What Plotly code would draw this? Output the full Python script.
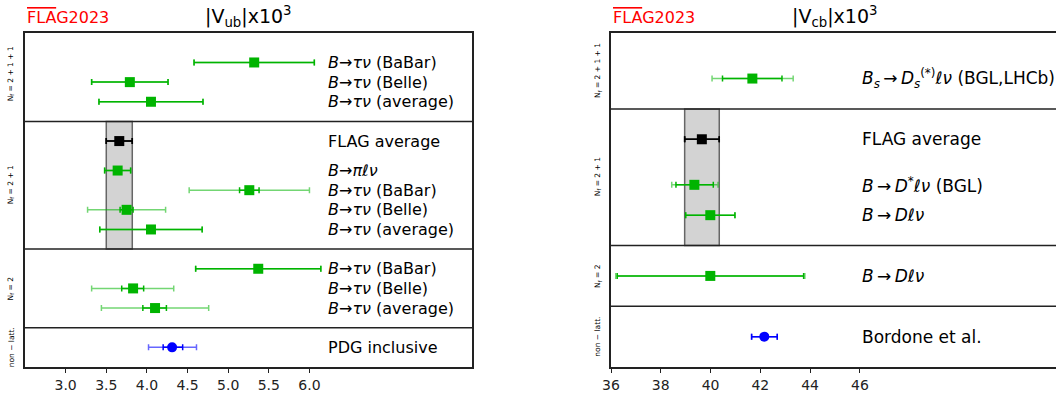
import plotly.graph_objects as go

# ---- |Vub| x 10^3 (left panel) ----
vub_labels = ["<i>B</i>→<i>τν</i> (BaBar)", "<i>B</i>→<i>τν</i> (Belle)", "<i>B</i>→<i>τν</i> (average)",
              "FLAG average", "<i>B</i>→<i>πℓν</i>", "<i>B</i>→<i>τν</i> (BaBar)",
              "<i>B</i>→<i>τν</i> (Belle)", "<i>B</i>→<i>τν</i> (average)",
              "<i>B</i>→<i>τν</i> (BaBar)", "<i>B</i>→<i>τν</i> (Belle)", "<i>B</i>→<i>τν</i> (average)",
              "PDG inclusive"]
vub_y = [15.5, 14.5, 13.5, 11.5, 10, 9, 8, 7, 5, 4, 3, 1]
vub_val = [5.32, 3.79, 4.05, 3.66, 3.64, 5.26, 3.75, 4.05, 5.37, 3.83, 4.10, 4.31]
vub_tot_lo = [4.58, 3.32, 3.41, 3.50, 3.48, 4.52, 3.27, 3.42, 4.60, 3.32, 3.44, 4.02]
vub_tot_hi = [6.06, 4.26, 4.69, 3.82, 3.80, 6.00, 4.23, 4.68, 6.14, 4.33, 4.76, 4.61]
vub_stat_lo = [4.58, 3.32, 3.41, 3.50, 3.48, 5.14, 3.67, 3.42, 4.60, 3.69, 3.95, 4.20]
vub_stat_hi = [6.06, 4.26, 4.69, 3.82, 3.80, 5.38, 3.83, 4.68, 6.14, 3.96, 4.24, 4.44]
vub_kind = ["lat", "lat", "lat", "avg", "lat", "lat", "lat", "lat", "lat", "lat", "lat", "pheno"]
vub_seps = [2, 6, 12.5]
vub_groups = ["N<sub>f</sub> = 2 + 1 + 1", "N<sub>f</sub> = 2 + 1", "N<sub>f</sub> = 2", "non − latt."]
vub_group_y = [14.9, 9.25, 4, 1]
vub_band = [3.50, 3.82]
vub_band_y = [6, 12.5]
vub_ticks = [3.0, 3.5, 4.0, 4.5, 5.0, 5.5, 6.0]

# ---- |Vcb| x 10^3 (right panel) ----
vcb_labels = ["<i>B<sub>s</sub></i>\u2009→\u2009<i>D<sub>s</sub></i><sup>(*)</sup><i>ℓν</i> (BGL,LHCb)",
              "FLAG average", "<i>B</i>\u2009→\u2009<i>D</i><sup>*</sup><i>ℓν</i> (BGL)",
              "<i>B</i>\u2009→\u2009<i>Dℓν</i>", "<i>B</i>\u2009→\u2009<i>Dℓν</i>", "Bordone et al."]
vcb_y = [9.5, 7.5, 6, 5, 3, 1]
vcb_val = [41.68, 39.65, 39.35, 39.99, 39.99, 42.16]
vcb_tot_lo = [40.06, 38.96, 38.44, 39.00, 36.19, 41.65]
vcb_tot_hi = [43.32, 40.35, 40.30, 40.98, 43.79, 42.68]
vcb_stat_lo = [40.48, 38.96, 38.61, 39.00, 36.25, 41.65]
vcb_stat_hi = [42.87, 40.35, 40.11, 40.98, 43.74, 42.68]
vcb_kind = ["lat", "avg", "lat", "lat", "lat", "pheno"]
vcb_seps = [2, 4, 8.5]
vcb_groups = ["N<sub>f</sub> = 2 + 1 + 1", "N<sub>f</sub> = 2 + 1", "N<sub>f</sub> = 2", "non − latt."]
vcb_group_y = [9.75, 6.25, 3, 1]
vcb_band = [38.96, 40.35]
vcb_band_y = [4, 8.5]
vcb_ticks = [36, 38, 40, 42, 44, 46]

styles = {
    "lat": dict(symbol="square", color="#00b400", bar_out="rgba(0,180,0,0.55)", bar_in="#00b400", size=10),
    "avg": dict(symbol="square", color="black", bar_out="black", bar_in="black", size=10),
    "pheno": dict(symbol="circle", color="#0000ff", bar_out="rgba(0,0,255,0.6)", bar_in="#0000ff", size=10),
}
FONT = "DejaVu Sans"
LINE = "#222222"

fig = go.Figure()


def add_panel(xa, ya, labels, ys, vals, tlo, thi, slo, shi, kinds, band, band_y, seps,
              groups, group_y, text_x, x_range, side_x, label_size):
    xref = xa.replace("axis", "")
    yref = ya.replace("axis", "")
    # FLAG average band
    fig.add_shape(type="rect", xref=xref, yref=yref, x0=band[0], x1=band[1],
                  y0=band_y[0], y1=band_y[1], fillcolor="#d3d3d3",
                  line=dict(color="#666666", width=1.5), layer="below")
    for s in seps:
        fig.add_shape(type="line", xref=xref, yref=yref, x0=x_range[0], x1=x_range[1],
                      y0=s, y1=s, line=dict(color=LINE, width=1.5))
    for i in range(len(vals)):
        st = styles[kinds[i]]
        for lo, hi, col in ((tlo[i], thi[i], st["bar_out"]), (slo[i], shi[i], st["bar_in"])):
            fig.add_trace(go.Scatter(
                x=[vals[i]], y=[ys[i]], mode="markers", xaxis=xref, yaxis=yref,
                marker=dict(size=1, color="rgba(0,0,0,0)"),
                error_x=dict(type="data", symmetric=False, array=[hi - vals[i]],
                             arrayminus=[vals[i] - lo], color=col, thickness=1.5, width=3),
                showlegend=False, hoverinfo="skip"))
        fig.add_trace(go.Scatter(
            x=[vals[i]], y=[ys[i]], mode="markers", xaxis=xref, yaxis=yref,
            marker=dict(symbol=st["symbol"], size=st["size"], color=st["color"]),
            showlegend=False))
        fig.add_annotation(x=text_x, y=ys[i], xref=xref, yref=yref, text=labels[i],
                           showarrow=False, xanchor="left", yanchor="middle",
                           font=dict(family=FONT, size=label_size, color="black"))
    for g, gy in zip(groups, group_y):
        fig.add_annotation(x=side_x, y=gy, xref="paper", yref=yref, text=g, textangle=-90,
                           showarrow=False, xanchor="center", yanchor="middle",
                           font=dict(family=FONT, size=7.5, color="black"))


add_panel("xaxis", "yaxis", vub_labels, vub_y, vub_val, vub_tot_lo, vub_tot_hi,
          vub_stat_lo, vub_stat_hi, vub_kind, vub_band, vub_band_y, vub_seps,
          vub_groups, vub_group_y, 6.2, [2.5, 8.0], 11 / 1056, 16)
add_panel("xaxis2", "yaxis2", vcb_labels, vcb_y, vcb_val, vcb_tot_lo, vcb_tot_hi,
          vcb_stat_lo, vcb_stat_hi, vcb_kind, vcb_band, vcb_band_y, vcb_seps,
          vcb_groups, vcb_group_y, 46.0, [36, 53.88], 598 / 1056, 17)

# titles
for xp, title in ((248 / 1056, "|V<sub>ub</sub>|x10<sup>3</sup>"),
                  (834 / 1056, "|V<sub>cb</sub>|x10<sup>3</sup>")):
    fig.add_annotation(x=xp, y=1 - 16 / 396, xref="paper", yref="paper", text=title,
                       showarrow=False, xanchor="center", yanchor="middle",
                       font=dict(family=FONT, size=19, color="black"))
for xp in (25 / 1056, 611 / 1056):
    fig.add_annotation(x=xp, y=1 - 17 / 396, xref="paper", yref="paper",
                       xanchor="left", yanchor="middle",
                       text="<span style='text-decoration:overline'>FLA</span>G2023",
                       showarrow=False, font=dict(family=FONT, size=16, color="red"))

ydom = [1 - 367 / 396, 1 - 33 / 396]
axis_common = dict(showgrid=False, zeroline=False, showline=True, linecolor=LINE,
                   linewidth=1.5, automargin=False)
fig.update_layout(
    width=1056, height=396, margin=dict(l=0, r=0, t=0, b=0, autoexpand=False),
    plot_bgcolor="white", paper_bgcolor="white",
    xaxis=dict(domain=[25 / 1056, 472 / 1056], range=[2.5, 8.0], tickvals=vub_ticks,
               ticktext=[f"{v:.1f}" for v in vub_ticks], ticks="outside", ticklen=4,
               tickcolor=LINE, mirror=True,
               tickfont=dict(family=FONT, size=14, color="#222"), **axis_common),
    yaxis=dict(domain=ydom, range=[0, 17], showticklabels=False, ticks="", mirror=True,
               **axis_common),
    xaxis2=dict(domain=[611 / 1056, 1.0], range=[36, 53.88], tickvals=vcb_ticks,
                ticks="outside", ticklen=4, tickcolor=LINE, mirror=True, anchor="y2",
                tickfont=dict(family=FONT, size=14, color="#222"), **axis_common),
    yaxis2=dict(domain=ydom, range=[0, 11], showticklabels=False, ticks="", anchor="x2",
                **axis_common),
)

# the page's default body margin would push the figure 8px off the corner
fig.write_html("out.html", config={"displayModeBar": False},
               post_script="document.body.style.margin = '0';")
